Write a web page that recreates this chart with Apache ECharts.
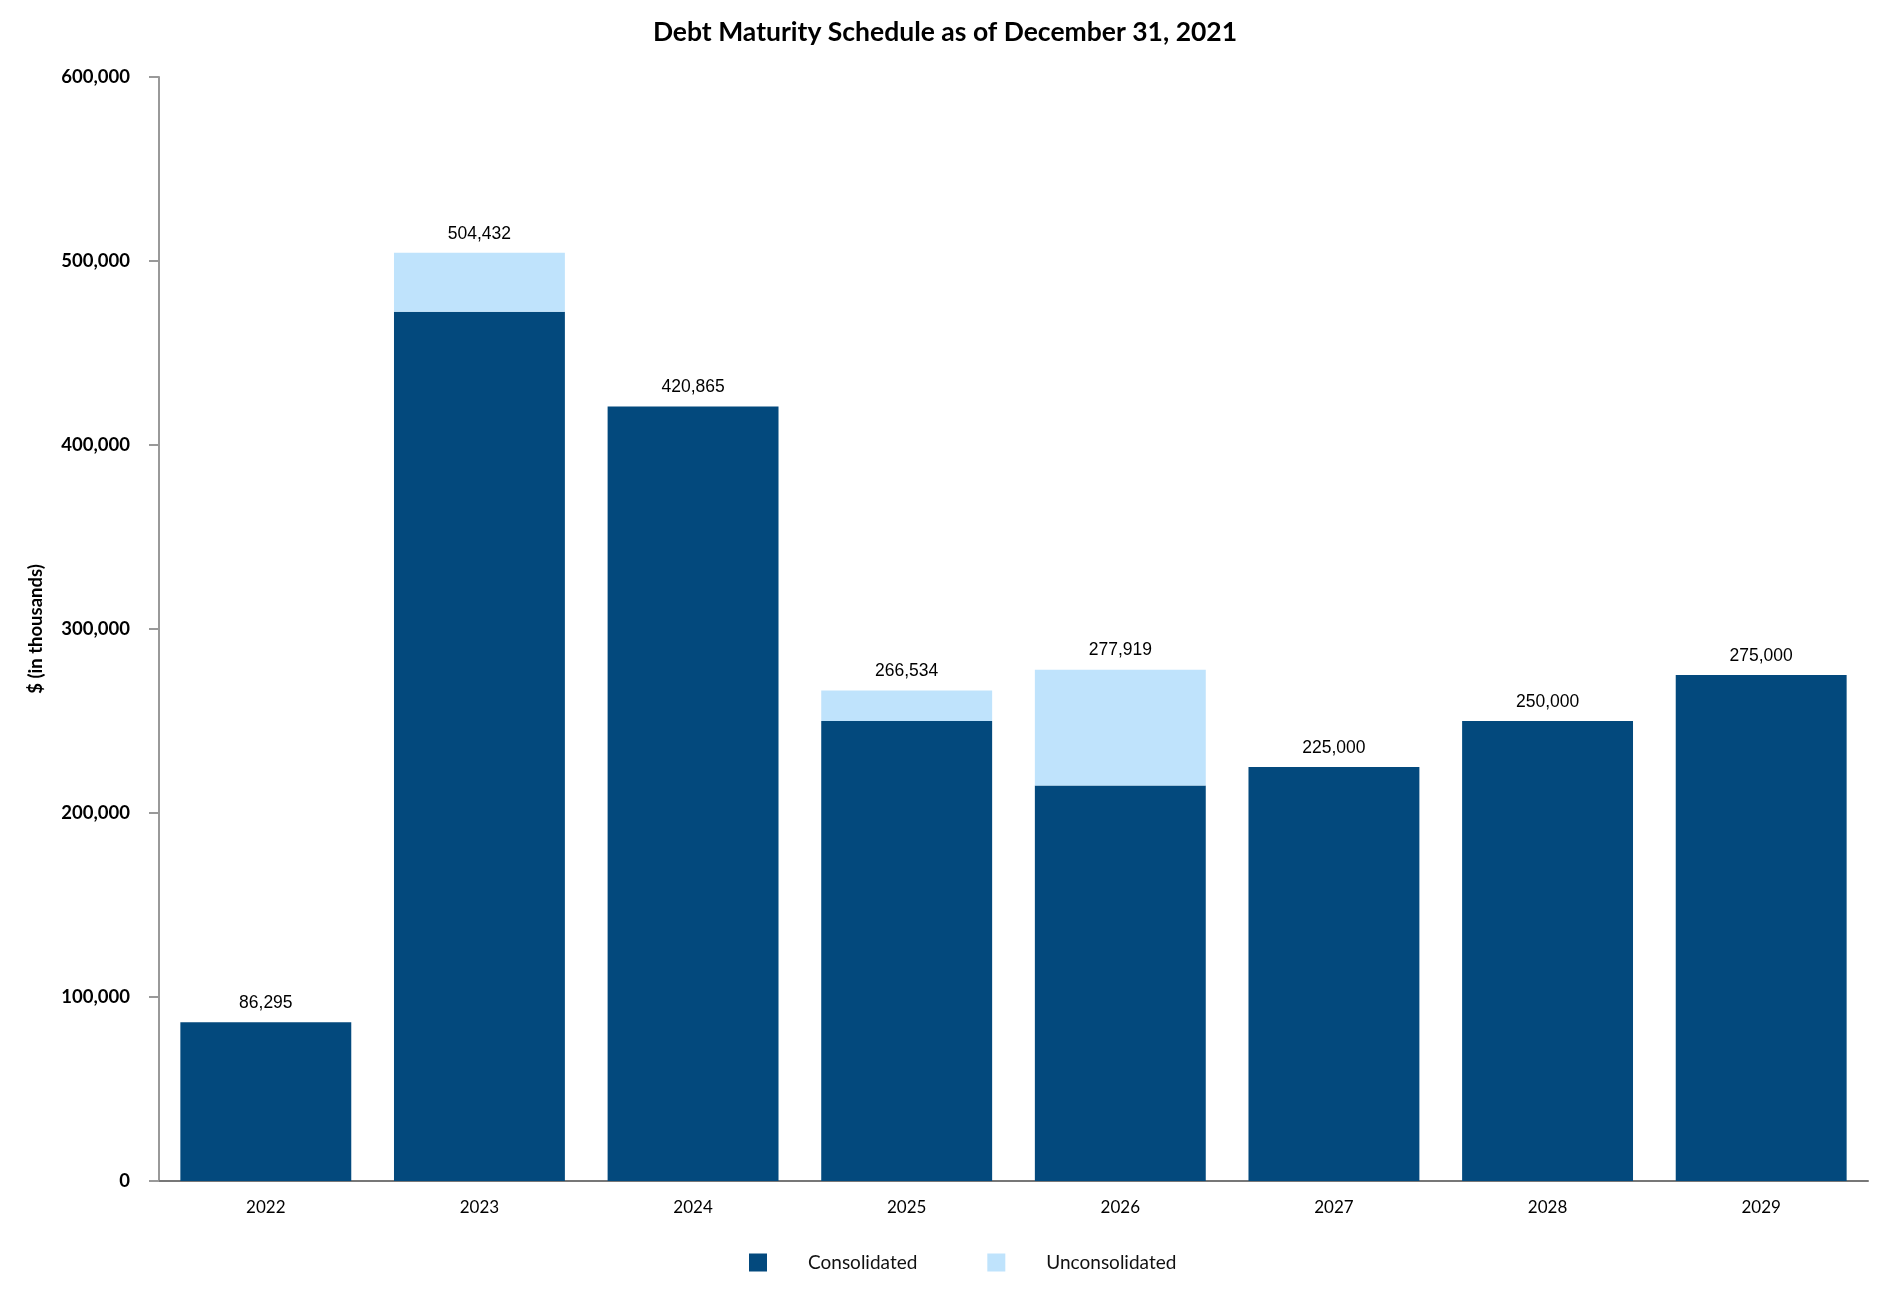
<!DOCTYPE html>
<html>
<head>
<meta charset="utf-8">
<script src="https://cdn.jsdelivr.net/npm/echarts@6/dist/echarts.min.js"></script>
<style>html,body{margin:0;padding:0;background:#fff}#c{width:1890px;height:1300px}</style>
</head>
<body>
<div id="c"></div>
<script>
const years = ['2022','2023','2024','2025','2026','2027','2028','2029'];
const consolidated = [86295, 472432, 420865, 250000, 215000, 225000, 250000, 275000];
const unconsolidated = [0, 32000, 0, 16534, 62919, 0, 0, 0];
const yTicks = [0, 100000, 200000, 300000, 400000, 500000, 600000];

const chart = echarts.init(document.getElementById('c'));
const fmt = v => v.toLocaleString('en-US');
chart.setOption({
  animation: false,
  title: {
    text: 'Debt Maturity Schedule as of December 31, 2021',
    left: 'center', top: 14,
    textStyle: {fontFamily: 'Lato', fontWeight: 'bold', fontSize: 26.5, color: '#000'}
  },
  legend: {
    left: 744, top: 1248,
    itemWidth: 18, itemHeight: 18, itemGap: 70,
    icon: 'rect',
    textStyle: {fontFamily: 'Lato', fontSize: 19, color: '#111', padding: [0,0,0,36]},
    data: ['Consolidated', 'Unconsolidated']
  },
  grid: {left: 159, right: 22, top: 77, bottom: 119},
  xAxis: {
    type: 'category', data: years,
    axisLine: {lineStyle: {color: '#777', width: 2}},
    axisTick: {alignWithLabel: true, length: 10, lineStyle: {color: '#999', width: 2}},
    axisLabel: {fontFamily: 'Lato', fontSize: 17, color: '#000', margin: 18}
  },
  yAxis: {
    type: 'value', min: 0, max: 600000, interval: 100000,
    name: '$ (in thousands)', nameLocation: 'middle', nameGap: 113,
    nameTextStyle: {fontFamily: 'Lato', fontWeight: 'bold', fontSize: 18.5, color: '#000'},
    axisLine: {show: true, lineStyle: {color: '#999', width: 2}},
    axisTick: {show: true, length: 10, lineStyle: {color: '#999', width: 2}},
    splitLine: {show: false},
    axisLabel: {fontFamily: 'Lato', fontWeight: 'bold', fontSize: 18.5, color: '#000', margin: 29,
      formatter: v => yTicks.includes(v) ? fmt(v) : ''}
  },
  series: [
    {name: 'Consolidated', type: 'bar', stack: 'a', data: consolidated, barCategoryGap: '20%',
     itemStyle: {color: '#03497d'}},
    {name: 'Unconsolidated', type: 'bar', stack: 'a', data: unconsolidated, barCategoryGap: '20%',
     itemStyle: {color: '#bfe3fc'},
     label: {show: true, position: 'top', distance: 10,
       fontFamily: 'Liberation Sans', fontSize: 17.5, color: '#000',
       formatter: p => fmt(consolidated[p.dataIndex] + unconsolidated[p.dataIndex])}}
  ]
});
</script>
</body>
</html>
